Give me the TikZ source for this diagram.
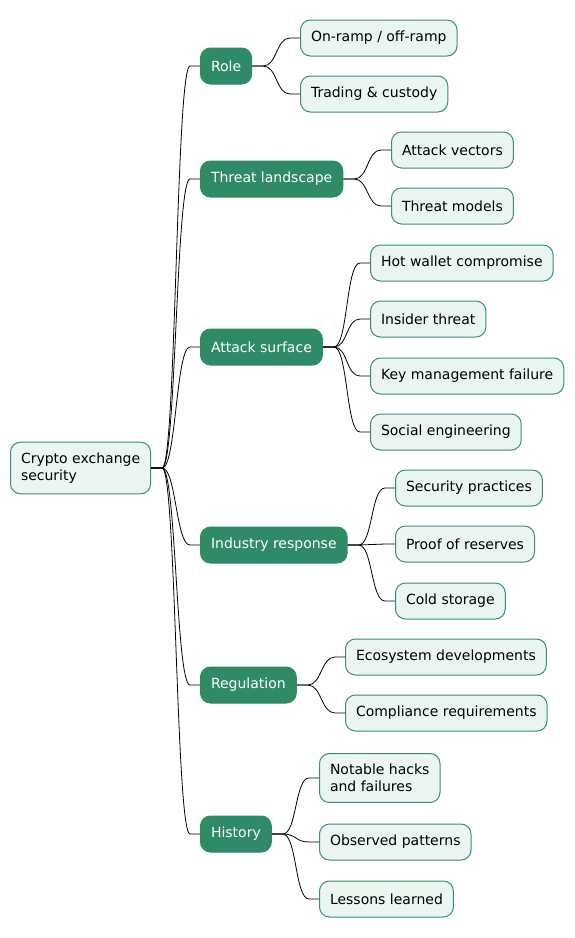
\documentclass[tikz,border=0pt]{standalone}
\usepackage{fontspec}
\setmainfont{DejaVu Sans}
\definecolor{dkgreen}{HTML}{2E8B66}
\definecolor{ltgreen}{HTML}{EAF6EF}
\definecolor{ltborder}{HTML}{3A8F6C}
\begin{document}
\begin{tikzpicture}[x=1pt,y=-1pt,
  base/.style={rounded corners=10pt, anchor=west, align=left, inner xsep=10.5pt, inner ysep=10.8pt,
    minimum height=36pt, font=\fontsize{14}{16.5}\selectfont, line width=1pt},
  rootbox/.style={base, draw=ltborder, fill=ltgreen, text=black},
  midbox/.style={base, draw=dkgreen, fill=dkgreen, text=white},
  leafbox/.style={base, draw=ltborder, fill=ltgreen, text=black},
  conn/.style={draw=black, line width=0.8pt}
]
\useasboundingbox (0,0) rectangle (575,938);

\node[rootbox] (root) at (10,468) {Crypto exchange\\security};

\node[midbox] (role) at (200,66) {Role};
\node[midbox] (threat) at (200,179) {Threat landscape};
\node[midbox] (attack) at (200,347) {Attack surface};
\node[midbox] (industry) at (200,545) {Industry response};
\node[midbox] (regul) at (200,685) {Regulation};
\node[midbox] (hist) at (200,834) {History};

\node[leafbox] (onramp) at (300,38) {On-ramp / off-ramp};
\node[leafbox] (trading) at (300,94) {Trading \& custody};

\node[leafbox] (vectors) at (391,150) {Attack vectors};
\node[leafbox] (models) at (391,206) {Threat models};

\node[leafbox] (hotw) at (370,263) {Hot wallet compromise};
\node[leafbox] (insider) at (370,319) {Insider threat};
\node[leafbox] (keym) at (370,376) {Key management failure};
\node[leafbox] (social) at (370,432) {Social engineering};

\node[leafbox] (secp) at (395,488) {Security practices};
\node[leafbox] (proof) at (395,544) {Proof of reserves};
\node[leafbox] (cold) at (395,601) {Cold storage};

\node[leafbox] (eco) at (345,657) {Ecosystem developments};
\node[leafbox] (compl) at (345,713) {Compliance requirements};

\node[leafbox] (notable) at (319,778) {Notable hacks\\and failures};
\node[leafbox] (observed) at (319,842) {Observed patterns};
\node[leafbox] (lessons) at (319,899) {Lessons learned};

\foreach \p/\c in {root/role,root/threat,root/attack,root/industry,root/regul,root/hist,
  role/onramp,role/trading,threat/vectors,threat/models,
  attack/hotw,attack/insider,attack/keym,attack/social,
  industry/secp,industry/proof,industry/cold,
  regul/eco,regul/compl,
  hist/notable,hist/observed,hist/lessons}{
  \draw[conn] (\p.east) -- ++(11,0) .. controls +(14,0) and +(-14,0) .. ([xshift=-10pt]\c.west) -- (\c.west);
}
\end{tikzpicture}
\end{document}
